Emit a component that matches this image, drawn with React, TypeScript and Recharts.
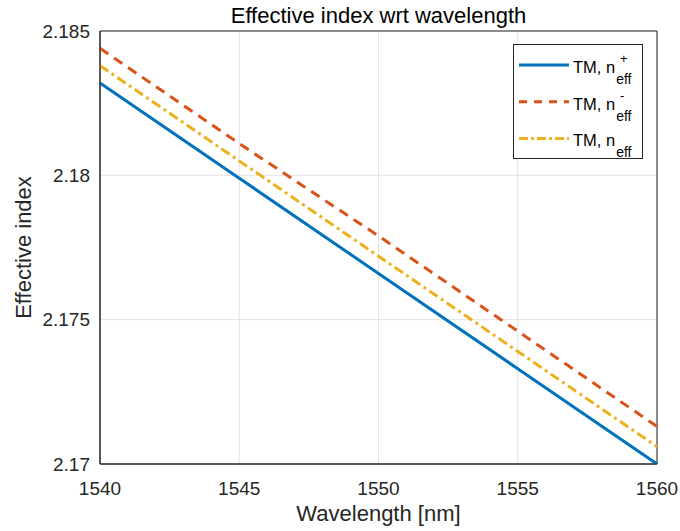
import React from 'react';
import {
  LineChart,
  Line,
  XAxis,
  YAxis,
  CartesianGrid,
  ReferenceArea,
} from 'recharts';

const wavelengths = [1540, 1545, 1550, 1555, 1560];
const nPlus = [2.1832, 2.1799, 2.1766, 2.1733, 2.1700];
const nMinus = [2.1844, 2.1811, 2.1779, 2.1746, 2.1713];
const nMean = [2.1838, 2.1805, 2.1772, 2.1739, 2.1706];

const xTicks = [1540, 1545, 1550, 1555, 1560];
const yTicks = [2.17, 2.175, 2.18, 2.185];

const data = wavelengths.map((w, i) => ({
  w,
  plus: nPlus[i],
  minus: nMinus[i],
  mean: nMean[i],
}));

const FONT = 'Arial, "Liberation Sans", Helvetica, sans-serif';
const TEXT = '#262626';

const legendItems = [
  { key: 'plus', color: '#0072BD', dash: undefined, sup: '+' },
  { key: 'minus', color: '#D95319', dash: '8 7', sup: '-' },
  { key: 'mean', color: '#EDB120', dash: '9 3 3 3', sup: '' },
];

// legend drawn as a small svg over the plot, top-right corner
const LegendBox = () => (
  <svg
    width={130}
    height={115}
    style={{ position: 'absolute', left: 513, top: 44, fontFamily: FONT }}
  >
    <rect x={0.5} y={0.5} width={129} height={114} fill="#fff" stroke="#262626" />
    {legendItems.map((it, i) => {
      const y = 21 + i * 36.7;
      return (
        <g key={it.key}>
          <line x1={6} y1={y} x2={56} y2={y} stroke={it.color} strokeWidth={3} strokeDasharray={it.dash} />
          <text x={60} y={y + 8} fontSize={16.5} fill="#000">
            TM, n
            <tspan dx={1} dy={11} fontSize={14}>eff</tspan>
          </text>
          {it.sup && (
            <text x={107} y={y - 2} fontSize={13} fill="#000">{it.sup}</text>
          )}
        </g>
      );
    })}
  </svg>
);

export default function App() {
  return (
    <div style={{ position: 'absolute', left: 0, top: 0, width: 680, height: 531, background: '#fff' }}>
      <LineChart
        width={680}
        height={531}
        data={data}
        margin={{ top: 31, right: 23, bottom: 0, left: 0 }}
        style={{ fontFamily: FONT }}
      >
        <CartesianGrid stroke="#e3e3e3" strokeWidth={1} />
        <XAxis
          dataKey="w"
          type="number"
          domain={[1540, 1560]}
          ticks={xTicks}
          height={67}
          axisLine={{ stroke: TEXT }}
          tickLine={false}
          tick={{ fill: TEXT, fontSize: 19 }}
          dy={10}
          label={{ value: 'Wavelength [nm]', position: 'insideBottom', offset: 10, fill: TEXT, fontSize: 22 }}
        />
        <YAxis
          type="number"
          domain={[2.17, 2.185]}
          ticks={yTicks}
          width={100}
          axisLine={{ stroke: TEXT }}
          tickLine={false}
          tick={{ fill: TEXT, fontSize: 19 }}
          dx={-2}
          allowDataOverflow
          label={{ value: 'Effective index', angle: -90, position: 'insideLeft', offset: 23, fill: TEXT, fontSize: 22, style: { textAnchor: 'middle' } }}
        />
        <ReferenceArea x1={1540} x2={1560} y1={2.17} y2={2.185} fill="none" stroke={TEXT} strokeWidth={1} ifOverflow="visible" />
        <Line type="linear" dataKey="plus" stroke="#0072BD" strokeWidth={3} dot={false} isAnimationActive={false} />
        <Line type="linear" dataKey="minus" stroke="#D95319" strokeWidth={3} strokeDasharray="10 7" dot={false} isAnimationActive={false} />
        <Line type="linear" dataKey="mean" stroke="#EDB120" strokeWidth={3} strokeDasharray="10 4 3 4" dot={false} isAnimationActive={false} />
      </LineChart>
      <div
        style={{
          position: 'absolute',
          top: 3,
          left: 100,
          width: 557,
          textAlign: 'center',
          fontFamily: FONT,
          fontSize: 22,
          lineHeight: 'normal',
          color: '#000',
        }}
      >
        Effective index wrt wavelength
      </div>
      <LegendBox />
    </div>
  );
}
